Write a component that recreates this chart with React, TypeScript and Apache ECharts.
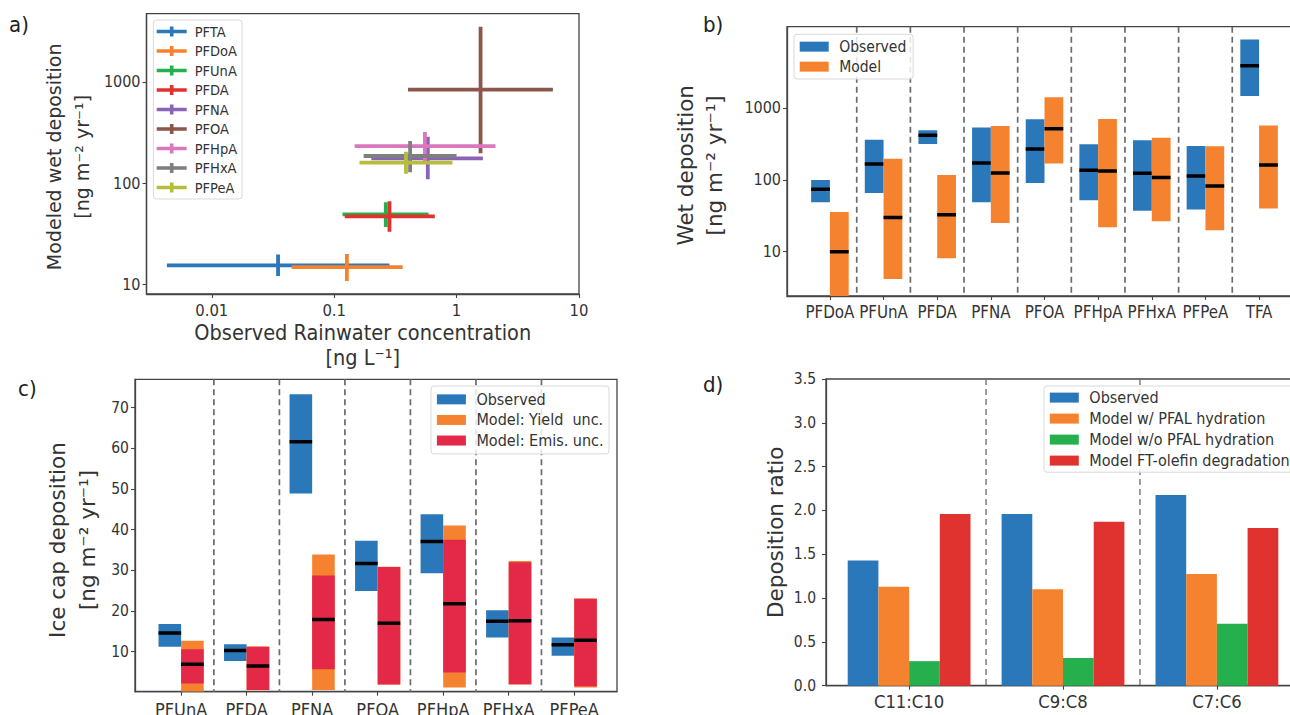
import { useEffect, useRef } from "react";
import * as echarts from "echarts";

const BLUE = "#2a78ba";
const ORANGE = "#f5822f";
const GREEN = "#25b04d";
const RED = "#e0322f";
const CRIMSON = "#e32947";
const BROWN = "#8c564b";
const PINK = "#d978be";
const PURPLE = "#8a62b8";
const GRAY = "#7f7f7f";
const OLIVE = "#b5bd3a";
const INK = "#333333";
const FONT_NARROW = '"DejaVu Sans Condensed", "Liberation Sans Narrow", "DejaVu Sans", sans-serif';
const FONT_WIDE = '"DejaVu Sans", sans-serif';

// panel a: [xLow, xMid, xHigh, yLow, yMid, yHigh]
const PFTA = [0.0043, 0.0348, 0.283, 12.2, 15.5, 19.9];
const PFDOA = [0.0449, 0.127, 0.363, 10.9, 14.9, 20.1];
const PFUNA = [0.117, 0.264, 0.59, 37, 49.4, 65];
const PFDA = [0.122, 0.283, 0.664, 33.3, 47.2, 66.4];
const PFNA = [0.201, 0.582, 1.64, 110, 176.6, 289];
const PFOA = [0.401, 1.57, 6.12, 198, 840, 3516];
const PFHPA = [0.147, 0.551, 2.08, 165, 233, 321];
const PFHXA = [0.174, 0.417, 1.0, 129, 186, 262];
const PFPEA = [0.161, 0.386, 0.925, 124, 160, 205];

// panel b: [low, high, median]
const WET_CATEGORIES = ["PFDoA", "PFUnA", "PFDA", "PFNA", "PFOA", "PFHpA", "PFHxA", "PFPeA", "TFA"];
const WET_OBSERVED = [
  [48.6, 99.4, 73.8],
  [65.6, 362, 166],
  [315, 489, 417],
  [48.6, 532, 171],
  [90, 695, 268],
  [52, 312, 136],
  [37.2, 355, 123],
  [38.5, 296, 113],
  [1468, 8933, 3846],
];
const WET_MODEL = [
  [2.417, 35.6, 10],
  [4.17, 197, 30],
  [8.07, 117, 32.7],
  [25, 561, 124],
  [168, 1407, 515],
  [21.8, 703, 133],
  [26.4, 386, 108],
  [19.8, 293, 82],
  [40, 568, 161],
];

// panel c
const ICE_CATEGORIES = ["PFUnA", "PFDA", "PFNA", "PFOA", "PFHpA", "PFHxA", "PFPeA"];
const ICE_OBSERVED = [
  [11.2, 16.8, 14.6],
  [7.7, 11.8, 10.3],
  [48.9, 73.3, 61.6],
  [24.9, 37.3, 31.7],
  [29.3, 43.8, 37.1],
  [13.5, 20.2, 17.5],
  [9, 13.5, 11.7],
];
const ICE_YIELD = [
  [0.16, 12.7],
  [0.5, 11.3],
  [0.6, 33.9],
  [1.9, 30.9],
  [1.2, 41],
  [1.9, 32.3],
  [1.2, 23.1],
];
const ICE_EMIS = [
  [2.2, 10.6, 6.9],
  [0.6, 11.2, 6.5],
  [5.7, 28.7, 17.9],
  [1.9, 30.8, 17],
  [4.9, 37.5, 21.8],
  [2, 32, 17.6],
  [1.5, 23, 12.8],
];

// panel d
const RATIO_CATEGORIES = ["C11:C10", "C9:C8", "C7:C6"];
const RATIO_OBSERVED = [1.43, 1.96, 2.176];
const RATIO_HYDRATION = [1.13, 1.1, 1.274];
const RATIO_NO_HYDRATION = [0.28, 0.316, 0.708];
const RATIO_OLEFIN = [1.96, 1.87, 1.8];

const CROSS_ICON = "path://M0 3.3H30V6.7H0Z M13.2 0H16.8V10H13.2Z";

function errorCross(name: string, row: number[], color: string) {
  const [xLow, xMid, xHigh, yLow, yMid, yHigh] = row;
  return {
    name,
    type: "line",
    xAxisIndex: 0,
    yAxisIndex: 0,
    symbol: "none",
    connectNulls: false,
    itemStyle: { color },
    lineStyle: { color, width: 3.8, cap: "butt" },
    data: [
      [xLow, yMid],
      [xHigh, yMid],
      ["-", "-"],
      [xMid, yLow],
      [xMid, yHigh],
    ],
  };
}

// floating box with a black median bar, on value/log axes
function rangeBoxes(name: string, axis: number, rows: number[][], color: string, from: number, to: number, z = 3) {
  return {
    name,
    type: "custom",
    xAxisIndex: axis,
    yAxisIndex: axis,
    z,
    clip: true,
    itemStyle: { color },
    encode: { x: 0, y: [1, 2] },
    data: rows.map((r, i) => [i, r[0], r[1], r.length > 2 ? r[2] : NaN]),
    renderItem: (_: any, api: any) => {
      const i = api.value(0);
      const a = api.coord([i + from, api.value(2)]);
      const b = api.coord([i + to, api.value(1)]);
      const children: any[] = [
        {
          type: "rect",
          shape: { x: a[0], y: a[1], width: b[0] - a[0], height: b[1] - a[1] },
          style: { fill: color },
        },
      ];
      const mid = api.value(3);
      if (!isNaN(mid)) {
        const m = api.coord([i, mid]);
        children.push({
          type: "line",
          shape: { x1: a[0], y1: m[1], x2: b[0], y2: m[1] },
          style: { stroke: "#000", lineWidth: 3.5 },
        });
      }
      return { type: "group", children };
    },
  };
}

function separators(axis: number, xs: number[], width = 1.7) {
  return {
    type: "custom",
    xAxisIndex: axis,
    yAxisIndex: axis,
    z: 2.5,
    silent: true,
    data: xs.map((x) => [x]),
    encode: { x: 0 },
    renderItem: (params: any, api: any) => {
      const p = api.coord([api.value(0), params.coordSys.y]);
      return {
        type: "line",
        shape: { x1: p[0], y1: params.coordSys.y, x2: p[0], y2: params.coordSys.y + params.coordSys.height },
        style: { stroke: "#6b6b6b", lineWidth: width, lineDash: [6, 4] },
      };
    },
  };
}

function ratioBars(name: string, values: number[], color: string) {
  return {
    name,
    type: "bar",
    xAxisIndex: 3,
    yAxisIndex: 3,
    barWidth: 30.7,
    barGap: 0,
    itemStyle: { color },
    data: values.map((v, i) => [i, v]),
  };
}

const axisBase = (fontSize: number, margin = 6) => ({
  axisLine: { show: true, onZero: false, lineStyle: { color: "#444", width: 1.3 } },
  axisTick: { show: true, length: 4, lineStyle: { color: "#444", width: 1.1 } },
  axisLabel: { color: INK, fontSize, fontFamily: FONT_NARROW, margin },
  splitLine: { show: false },
  minorTick: { show: false },
  minorSplitLine: { show: false },
});

function catAxis(grid: number, min: number, max: number, cats: string[], fontSize: number, margin: number) {
  const idx = cats.map((_, i) => i);
  const base = axisBase(fontSize, margin);
  return {
    ...base,
    type: "value",
    gridIndex: grid,
    min,
    max,
    axisTick: { ...base.axisTick, customValues: idx },
    axisLabel: { ...base.axisLabel, customValues: idx, formatter: (v: number) => cats[Math.round(v)] },
  };
}

function logAxis(grid: number, min: number, max: number, ticks: number[], fontSize: number, margin = 6) {
  const base = axisBase(fontSize, margin);
  return {
    ...base,
    type: "log",
    logBase: 10,
    gridIndex: grid,
    min,
    max,
    axisTick: { ...base.axisTick, customValues: ticks },
    axisLabel: { ...base.axisLabel, customValues: ticks, formatter: (v: number) => String(Number(v.toPrecision(3))) },
  };
}

const nameStyle = (lineHeight: number, fontSize = 21.5) => ({
  color: INK,
  fontSize,
  fontFamily: FONT_WIDE,
  lineHeight,
});

const legendText = (fontSize: number) => ({
  color: INK,
  fontSize,
  fontFamily: FONT_NARROW,
  padding: [0, 0, 0, 5.5],
});

const legendBase = {
  orient: "vertical",
  selectedMode: false,
  backgroundColor: "rgba(255,255,255,0.82)",
  borderColor: "#d9d9d9",
  borderWidth: 1,
  borderRadius: 3,
  icon: "rect",
  itemWidth: 29,
  itemHeight: 10,
};

const panelLabel = (text: string, left: number, top: number) => ({
  type: "text",
  left,
  top,
  style: { text, fill: "#222", fontSize: 22, fontFamily: FONT_NARROW },
});

export default function App() {
  const ref = useRef<HTMLDivElement>(null);

  useEffect(() => {
    if (!ref.current) return;
    const chart = echarts.init(ref.current, undefined, { renderer: "svg" });
    // panels b and d run past the page edge, so no shrinking to fit
    const border = {
      show: true,
      borderColor: "#444",
      borderWidth: 1.3,
      backgroundColor: "transparent",
      outerBoundsMode: "none",
    };
    const iceAxis = axisBase(15.5);
    const ratioAxis = axisBase(15.5, 10);
    const iceTicks = [10, 20, 30, 40, 50, 60, 70];

    const option: any = {
      animation: false,
      backgroundColor: "#fff",
      grid: [
        { ...border, left: 146.5, top: 13.7, width: 432.5, height: 280.3 },
        { ...border, left: 787, top: 26.7, width: 515, height: 269.3 },
        { ...border, left: 135, top: 379.3, width: 482, height: 312.4 },
        { ...border, left: 826, top: 379, width: 474, height: 306.7 },
      ],
      xAxis: [
        {
          ...logAxis(0, 0.00293, 10, [0.01, 0.1, 1, 10], 16.5, 8),
          name: "Observed Rainwater concentration\n[ng L⁻¹]",
          nameLocation: "middle",
          nameGap: 23,
          nameTextStyle: { ...nameStyle(25), fontFamily: FONT_NARROW, verticalAlign: "top" },
        },
        catAxis(1, -0.8, 8.8, WET_CATEGORIES, 16.8, 7),
        catAxis(2, -0.704, 6.653, ICE_CATEGORIES, 18, 9),
        catAxis(3, -0.54, 2.54, RATIO_CATEGORIES, 18.3, 7),
      ],
      yAxis: [
        {
          ...logAxis(0, 8.09, 4720, [10, 100, 1000], 16),
          name: "Modeled wet deposition\n[ng m⁻² yr⁻¹]",
          nameLocation: "middle",
          nameRotate: 90,
          nameGap: 51,
          nameTextStyle: { ...nameStyle(28, 19), padding: [0, 6, 0, 0] },
        },
        {
          ...logAxis(1, 2.417, 13490, [10, 100, 1000], 16),
          name: "Wet deposition\n[ng m⁻² yr⁻¹]",
          nameLocation: "middle",
          nameRotate: 90,
          nameGap: 58,
          nameTextStyle: { ...nameStyle(29), padding: [0, 8, 0, 0] },
        },
        {
          ...iceAxis,
          type: "value",
          gridIndex: 2,
          min: 0.16,
          max: 76.97,
          axisTick: { ...iceAxis.axisTick, customValues: iceTicks },
          axisLabel: { ...iceAxis.axisLabel, customValues: iceTicks },
          name: "Ice cap deposition\n[ng m⁻² yr⁻¹]",
          nameLocation: "middle",
          nameRotate: 90,
          nameGap: 33,
          nameTextStyle: { ...nameStyle(30), padding: [0, 9, 0, 0] },
        },
        {
          ...ratioAxis,
          type: "value",
          gridIndex: 3,
          min: 0,
          max: 3.5,
          interval: 0.5,
          axisLabel: { ...ratioAxis.axisLabel, formatter: (v: number) => v.toFixed(1) },
          name: "Deposition ratio",
          nameLocation: "middle",
          nameRotate: 90,
          nameGap: 37,
          nameTextStyle: nameStyle(27),
        },
      ],
      legend: [
        {
          ...legendBase,
          left: 153.4,
          top: 20,
          padding: [4, 5, 4, 3.3],
          icon: CROSS_ICON,
          itemWidth: 30,
          itemGap: 4.5,
          textStyle: { ...legendText(14.5), padding: [0, 0, 0, 3] },
          data: ["PFTA", "PFDoA", "PFUnA", "PFDA", "PFNA", "PFOA", "PFHpA", "PFHxA", "PFPeA"],
        },
        {
          ...legendBase,
          left: 794,
          top: 34.3,
          padding: [4.35, 6.8, 4.35, 5.7],
          itemGap: 4,
          textStyle: legendText(15.5),
          data: ["Observed", "Model"],
        },
        {
          ...legendBase,
          left: 431,
          top: 386,
          padding: [5.35, 5.5, 5.35, 5.9],
          itemGap: 4.6,
          textStyle: legendText(16),
          data: ["Observed", "Model: Yield  unc.", "Model: Emis. unc."],
        },
        {
          ...legendBase,
          left: 1044,
          top: 386,
          padding: [3.6, 6, 3.6, 5.8],
          itemGap: 5,
          textStyle: legendText(16),
          data: ["Observed", "Model w/ PFAL hydration", "Model w/o PFAL hydration", "Model FT-olefin degradation"],
        },
      ],
      graphic: [
        panelLabel("a)", 9, 13),
        panelLabel("b)", 703, 13),
        panelLabel("c)", 18, 377),
        panelLabel("d)", 703, 373),
      ],
      series: [
        errorCross("PFTA", PFTA, BLUE),
        errorCross("PFDoA", PFDOA, ORANGE),
        errorCross("PFUnA", PFUNA, GREEN),
        errorCross("PFDA", PFDA, RED),
        errorCross("PFNA", PFNA, PURPLE),
        errorCross("PFOA", PFOA, BROWN),
        errorCross("PFHpA", PFHPA, PINK),
        errorCross("PFHxA", PFHXA, GRAY),
        errorCross("PFPeA", PFPEA, OLIVE),

        separators(1, [0.5, 1.5, 2.5, 3.5, 4.5, 5.5, 6.5, 7.5]),
        rangeBoxes("Observed", 1, WET_OBSERVED, BLUE, -0.35, 0),
        rangeBoxes("Model", 1, WET_MODEL, ORANGE, 0, 0.35),

        separators(2, [0.5, 1.5, 2.5, 3.5, 4.5, 5.5]),
        rangeBoxes("Observed", 2, ICE_OBSERVED, BLUE, -0.345, 0),
        rangeBoxes("Model: Yield  unc.", 2, ICE_YIELD, ORANGE, 0, 0.345),
        rangeBoxes("Model: Emis. unc.", 2, ICE_EMIS, CRIMSON, 0, 0.345, 4),

        ratioBars("Observed", RATIO_OBSERVED, BLUE),
        ratioBars("Model w/ PFAL hydration", RATIO_HYDRATION, ORANGE),
        ratioBars("Model w/o PFAL hydration", RATIO_NO_HYDRATION, GREEN),
        ratioBars("Model FT-olefin degradation", RATIO_OLEFIN, RED),
        separators(3, [0.5, 1.5], 1.3),
      ],
    };

    chart.setOption(option);
    return () => chart.dispose();
  }, []);

  return <div ref={ref} style={{ position: "absolute", left: 0, top: 0, width: 1290, height: 715 }} />;
}
